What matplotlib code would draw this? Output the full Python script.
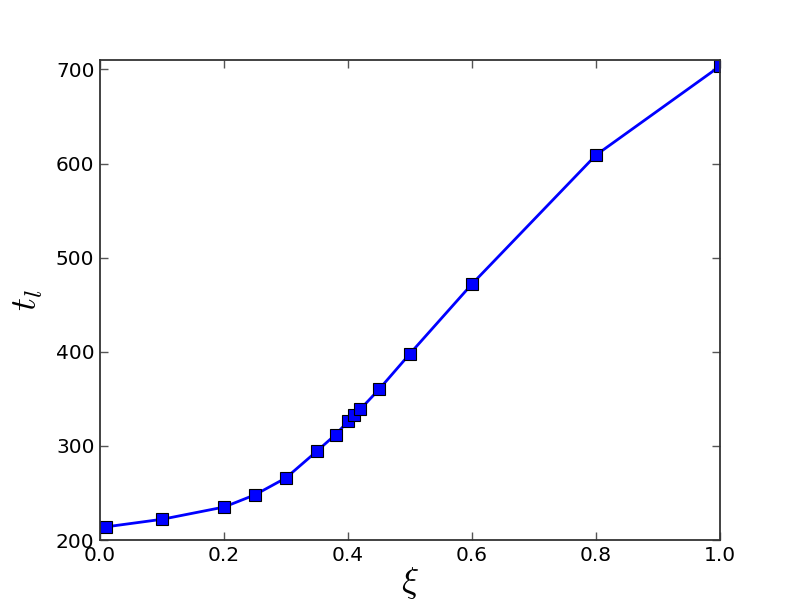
import matplotlib
matplotlib.use('Agg')
import matplotlib.pyplot as plt

plt.rcParams['mathtext.fontset'] = 'cm'

# values
xi = [0.01, 0.1, 0.2, 0.25, 0.3, 0.35, 0.38, 0.4, 0.41, 0.42, 0.45, 0.5, 0.6, 0.8, 1.0]
t_l = [214, 222, 235, 248, 266, 294.5, 312, 326, 333, 339, 360, 398, 472, 609, 703.5]

xticks = [0.0, 0.2, 0.4, 0.6, 0.8, 1.0]
yticks = [200, 300, 400, 500, 600, 700]

fig = plt.figure(figsize=(8, 6), dpi=100)
ax = fig.add_axes([0.125, 0.1, 0.775, 0.8])

ax.plot(xi, t_l, color='blue', linewidth=2, marker='s', markersize=8,
        markerfacecolor='blue', markeredgecolor='black', markeredgewidth=0.8)

ax.set_xlim(0, 1.0)
ax.set_ylim(200, 710)
ax.set_xticks(xticks)
ax.set_yticks(yticks)
ax.set_xticklabels(['%.1f' % v for v in xticks])
ax.tick_params(direction='in', top=True, right=True, length=6, width=1,
               labelsize=14.5, pad=4, color='#555555')
for s in ax.spines.values():
    s.set_linewidth(1.3)
    s.set_color('#333333')

ax.set_xlabel(r'$\xi$', fontsize=26, labelpad=0)
ax.set_ylabel(r'$t_l$', fontsize=26, labelpad=8)

fig.savefig('out.png', dpi=100)
